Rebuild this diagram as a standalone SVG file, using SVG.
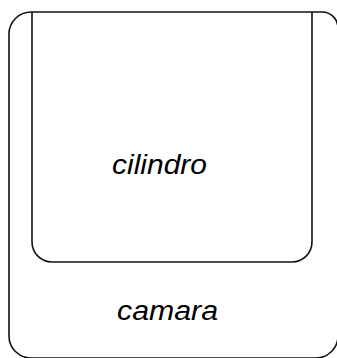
<svg xmlns="http://www.w3.org/2000/svg" width="337" height="358" viewBox="0 0 337 358">
<style>
.shape{fill:none;stroke:#111;stroke-width:1.6;stroke-linejoin:round}
.lbl{font-family:"Liberation Sans",Arial,sans-serif;font-style:italic;font-size:27px;fill:#000}
</style>
<rect width="337" height="358" fill="#fff"/>
<g id="camara">
<path class="shape" d="M9,34 A22,22 0 0 1 31,12 H322 A16,16 0 0 1 338,28 V336 A22,22 0 0 1 316,358 H31 A22,22 0 0 1 9,336 Z"/>
<text class="lbl" x="117" y="320" textLength="101" lengthAdjust="spacingAndGlyphs">camara</text>
</g>
<g id="cilindro">
<path class="shape" d="M32,12 V242 A20,20 0 0 0 52,262 H292 A20,20 0 0 0 312,242 V12"/>
<text class="lbl" x="112" y="174" textLength="95" lengthAdjust="spacingAndGlyphs">cilindro</text>
</g>
<g id="connectors"/>
</svg>
